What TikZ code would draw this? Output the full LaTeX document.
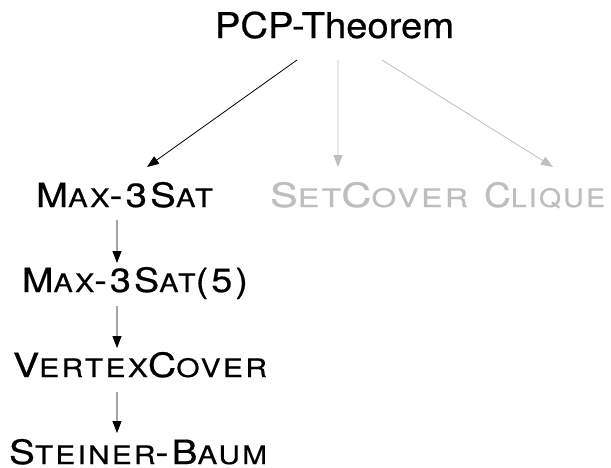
\documentclass[tikz,border=0pt]{standalone}
\usepackage{fontspec}
\setmainfont[FakeBold=0.5]{TeX Gyre Heros}
\newfontfamily\scfam[LetterSpace=8,FakeBold=0.5]{TeX Gyre Heros}
\usetikzlibrary{arrows.meta,calc}
\definecolor{lightg}{RGB}{190,190,190}
\newcommand\mysc[1]{{\fontsize{25.5}{30}\selectfont #1}}
\newcommand\fitw[2]{\resizebox{#1}{\height}{#2}}
\tikzset{
  lab/.style={inner sep=0pt, outer sep=0pt, anchor=base west},
  big/.style={lab, font=\fontsize{35.5}{42}\selectfont},
  scl/.style={lab, font=\scfam\fontsize{33.5}{40}\selectfont},
  blk/.style={draw=black, line width=0.8pt, -{Triangle[length=12pt,width=9pt]}},
  gry/.style={draw=lightg, line width=0.8pt, -{Triangle[length=12pt,width=9pt]}},
  gtext/.style={text=lightg}
}
\begin{document}
\begin{tikzpicture}[x=1pt,y=1pt]
\useasboundingbox (0,0) rectangle (611,-467);
\node[big] (pcp) at (215,-38) {\fitw{239pt}{PCP-Theorem}};
\node[scl] (m3) at (36,-207) {\fitw{177pt}{M\mysc{AX}-3S\mysc{AT}}};
\node[scl,gtext] (sc) at (270,-207) {\fitw{198pt}{S\mysc{ET}C\mysc{OVER}}};
\node[scl,gtext] (cl) at (484,-207) {\fitw{121pt}{C\mysc{LIQUE}}};
\node[scl] (m35) at (22,-292) {\fitw{226pt}{M\mysc{AX}-3S\mysc{AT}(5)}};
\node[scl] (vc) at (13,-377) {\fitw{254pt}{V\mysc{ERTEX}C\mysc{OVER}}};
\node[scl] (st) at (9,-464) {\fitw{258pt}{S\mysc{TEINER}-B\mysc{AUM}}};
\draw[blk] ([shift={(-37.5,-22)}]pcp.base) -- ([shift={(22.5,40)}]m3.base);
\draw[gry] ([shift={(3.5,-22)}]pcp.base) -- ([shift={(-31,40)}]sc.base);
\draw[gry] ([shift={(47.5,-22)}]pcp.base) -- ([shift={(8.5,40)}]cl.base);
\draw[blk] ([shift={(-7.5,-13)}]m3.base) -- ([shift={(-18,29)}]m35.base);
\draw[blk] ([shift={(-18,-14)}]m35.base) -- ([shift={(-23,29)}]vc.base);
\draw[blk] ([shift={(-23,-15)}]vc.base) -- ([shift={(-21,31)}]st.base);
\end{tikzpicture}
\end{document}
